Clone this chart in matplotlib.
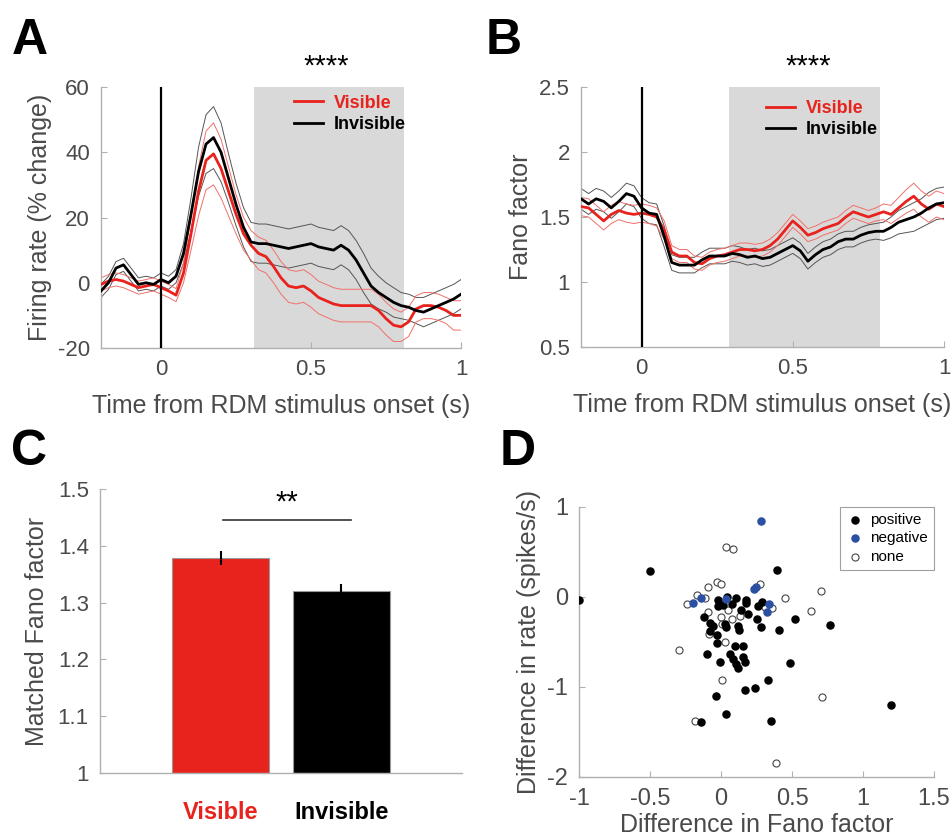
import numpy as np
import matplotlib
matplotlib.use("Agg")
import matplotlib.pyplot as plt

plt.rcParams['font.family'] = ['Liberation Sans', 'DejaVu Sans']
plt.rcParams['axes.unicode_minus'] = False

# ---- data ----
t = np.round(np.arange(-0.2, 1.0001, 0.025), 3)

vis_rate = [-0.5, 0.5, 1, 0.5, -0.5, -1.5, -1.0, -0.5, -1.5, -2.5, -3.8, 3, 15, 28, 37.5,
            39.5, 35, 28, 21, 15, 11.5, 9, 8, 5, 1.5, -1, -1.5, -1, -2.5, -4.5, -5.5, -6.5,
            -7, -7, -7, -7, -7, -8.5, -11, -13, -13.5, -12, -8, -7, -7, -7.5, -8.5, -10, -10]
vis_rate_sem = [2] * 11 + [3, 5, 7.5, 9, 9.5, 9, 7.5, 6, 5, 4.5] + [5] * 19 + [4.5, 4.5, 4, 4, 4, 4, 4, 4.5, 4.5]
inv_rate = [-2.5, 0, 4.5, 5.5, 2.5, -0.5, 0, -0.5, 1, 0, 2, 9, 21, 34, 42.5, 44.5, 40, 32, 24,
            17, 12.5, 12, 12, 11.5, 11, 10.5, 11, 11.5, 12, 11, 10.5, 10, 11.5, 10, 7, 3, -1,
            -3, -4.5, -6, -7, -7.5, -8.5, -9, -8, -7, -6, -5, -3.5]
inv_rate_sem = [2] * 11 + [3, 5, 7.5, 9, 9.5, 9, 7.5, 6.5, 6] + [6] * 16 + [5.5, 5, 4.5, 4.5, 4, 4, 4, 4.5, 4.5, 4.5, 4.5, 4.5, 4.5]

vis_ff = [1.58, 1.57, 1.52, 1.47, 1.52, 1.55, 1.53, 1.52, 1.53, 1.52, 1.50, 1.40, 1.23, 1.20,
          1.20, 1.15, 1.14, 1.18, 1.20, 1.21, 1.23, 1.25, 1.25, 1.24, 1.25, 1.28, 1.33, 1.40,
          1.47, 1.42, 1.36, 1.38, 1.41, 1.43, 1.45, 1.50, 1.54, 1.52, 1.50, 1.52, 1.54, 1.52,
          1.57, 1.62, 1.66, 1.60, 1.56, 1.60, 1.58]
vis_ff_sem = [0.07] * 12 + [0.05] * 28 + [0.06, 0.07, 0.08, 0.09, 0.1, 0.1, 0.1, 0.1, 0.1]
inv_ff = [1.64, 1.60, 1.64, 1.62, 1.57, 1.62, 1.68, 1.66, 1.57, 1.53, 1.52, 1.35, 1.15, 1.13,
          1.13, 1.13, 1.17, 1.20, 1.20, 1.20, 1.22, 1.21, 1.19, 1.20, 1.18, 1.19, 1.22, 1.25,
          1.28, 1.24, 1.16, 1.21, 1.25, 1.27, 1.31, 1.33, 1.33, 1.36, 1.38, 1.39, 1.39, 1.42,
          1.46, 1.48, 1.50, 1.53, 1.57, 1.60, 1.61]
inv_ff_sem = [0.08] * 12 + [0.06] * 28 + [0.07, 0.08, 0.09, 0.1, 0.11, 0.11, 0.12, 0.12, 0.12]

bar_labels = ['Visible', 'Invisible']
bar_values = [1.378, 1.32]
bar_err = [0.012, 0.013]

pos_x = [-1.0, -0.498, 0.394, -0.122, -0.019, 0.042, 0.103, 0.176, 0.178, -0.023, 0.014, 0.075,
         0.138, 0.188, 0.261, 0.289, 0.254, 0.284, 0.519, 0.77, 0.41, -0.075, -0.056, -0.08,
         0.026, 0.038, 0.12, 0.124, -0.028, -0.028, -0.099, -0.009, 0.099, 0.155, 0.066, 0.085,
         0.103, 0.12, 0.155, 0.172, 0.484, 0.329, 0.167, 0.239, -0.033, 0.038, -0.141, 0.35, 1.2]
pos_y = [-0.03, 0.287, 0.298, -0.218, -0.032, 0.005, -0.006, -0.032, -0.07, -0.10, -0.09, -0.08,
         -0.14, -0.19, -0.10, -0.06, -0.24, -0.33, -0.245, -0.31, -0.37, -0.29, -0.32, -0.38,
         -0.30, -0.33, -0.32, -0.37, -0.42, -0.51, -0.63, -0.72, -0.55, -0.55, -0.63, -0.69,
         -0.74, -0.79, -0.67, -0.72, -0.73, -0.92, -1.035, -1.016, -1.10, -1.30, -1.39, -1.38, -1.20]
neg_x = [0.279, 0.23, 0.249, -0.197, -0.143, 0.038, 0.338, 0.322]
neg_y = [0.848, 0.087, 0.116, -0.07, -0.006, -0.02, -0.08, -0.17]
none_x = [0.038, 0.085, -0.028, 0.0, -0.089, -0.167, -0.115, -0.24, -0.092, 0.277, 0.448, 0.704,
          0.636, 0.36, 0.05, 0.002, 0.077, 0.131, 0.01, -0.085, 0.026, -0.298, 0.007, 0.711,
          -0.185, 0.387, 0.31]
none_y = [0.554, 0.536, 0.165, 0.14, 0.109, 0.024, -0.013, -0.08, -0.17, 0.142, -0.006, 0.068,
          -0.16, -0.12, -0.14, -0.22, -0.25, -0.21, -0.30, -0.415, -0.50, -0.59, -0.92, -1.11,
          -1.376, -1.85, -0.11]

RED = '#e8221c'
GRAY_TXT = '#4a4a4a'
SPINE = '#b0b0b0'

fig = plt.figure(figsize=(9.52, 8.38), dpi=100)


def style(ax, size=15):
    for s in ['top', 'right']:
        ax.spines[s].set_visible(False)
    for s in ['left', 'bottom']:
        ax.spines[s].set_color(SPINE)
        ax.spines[s].set_linewidth(1.0)
    ax.tick_params(direction='in', length=4, color=SPINE, labelcolor=GRAY_TXT, labelsize=size, pad=8)


def psth(ax, vis, vis_sem, inv, inv_sem, shade, ylim, yticks, ylabel, leg_xy):
    vis, vis_sem, inv, inv_sem = map(np.array, (vis, vis_sem, inv, inv_sem))
    ax.axvspan(shade[0], shade[1], color='#d9d9d9', lw=0, zorder=0)
    for m, s, c, bc in [(inv, inv_sem, 'black', '#555555'), (vis, vis_sem, RED, '#f0706a')]:
        ax.plot(t, m + s, color=bc, lw=0.7, zorder=2)
        ax.plot(t, m - s, color=bc, lw=0.7, zorder=2)
    lv, = ax.plot(t, vis, color=RED, lw=2.0, zorder=3)
    li, = ax.plot(t, inv, color='black', lw=2.0, zorder=3)
    ax.axvline(0, color='black', lw=1.6, zorder=4)
    ax.set_xlim(-0.2, 1.0)
    ax.set_ylim(*ylim)
    ax.set_xticks([0, 0.5, 1])
    ax.set_xticklabels(['0', '0.5', '1'])
    ax.set_yticks(yticks)
    style(ax, 16)
    ax.set_xlabel('Time from RDM stimulus onset (s)', fontsize=18, color=GRAY_TXT, labelpad=10)
    ax.set_ylabel(ylabel, fontsize=18, color=GRAY_TXT, labelpad=4)
    ax.text(0.625, 1.025, '****', transform=ax.transAxes, ha='center', va='bottom',
            fontsize=21)
    leg = ax.legend([lv, li], ['Visible', 'Invisible'], loc='upper left', bbox_to_anchor=leg_xy,
                    frameon=False, handlelength=1.6, handletextpad=0.6, borderpad=0,
                    labelspacing=0.25, prop={'weight': 'bold', 'size': 13})
    leg.get_texts()[0].set_color(RED)


# A
axA = fig.add_axes([0.1061, 0.5847, 0.3782, 0.3115])
psth(axA, vis_rate, vis_rate_sem, inv_rate, inv_rate_sem, (0.31, 0.81), (-20, 60),
     [-20, 0, 20, 40, 60], 'Firing rate (% change)', (0.51, 1.005))

# B
axB = fig.add_axes([0.6103, 0.5859, 0.3813, 0.3103])
psth(axB, vis_ff, vis_ff_sem, inv_ff, inv_ff_sem, (0.29, 0.79), (0.5, 2.5),
     [0.5, 1, 1.5, 2, 2.5], 'Fano factor', (0.485, 0.985))
axB.set_yticklabels(['0.5', '1', '1.5', '2', '2.5'])

# C
axC = fig.add_axes([0.1050, 0.0776, 0.3803, 0.3389])
xpos = np.arange(1, len(bar_values) + 1)
axC.bar(xpos, np.array(bar_values) - 1, bottom=1, width=0.8, color=[RED, 'black'],
        edgecolor='#9a9a9a', linewidth=0.8, zorder=2)
axC.errorbar(xpos, bar_values, yerr=bar_err, fmt='none', ecolor='black', elinewidth=1.5,
             capsize=0, zorder=3)
axC.set_xlim(0, 3)
axC.set_ylim(1, 1.5)
axC.set_yticks([1, 1.1, 1.2, 1.3, 1.4, 1.5])
axC.set_yticklabels(['1', '1.1', '1.2', '1.3', '1.4', '1.5'])
style(axC, 16)
axC.set_xticks(xpos)
axC.set_xticklabels(bar_labels, fontsize=17, fontweight='bold')
axC.tick_params(axis='x', length=0, pad=20)
for lab, c in zip(axC.get_xticklabels(), [RED, 'black']):
    lab.set_color(c)
axC.plot([1.02, 2.08], [1.445, 1.445], color='#333333', lw=1.2)
axC.text(1.55, 1.452, '**', ha='center', va='bottom', fontsize=21)
axC.set_ylabel('Matched Fano factor', fontsize=18, color=GRAY_TXT, labelpad=6)

# D
axD = fig.add_axes([0.6082, 0.0728, 0.3729, 0.3222])
axD.scatter(pos_x, pos_y, s=26, color='black', zorder=3, label='positive')
axD.scatter(neg_x, neg_y, s=26, color='#2b4fa3', zorder=4, label='negative')
axD.scatter(none_x, none_y, s=26, facecolors='white', edgecolors='#444444', linewidths=0.8,
            zorder=2, label='none')
axD.set_xlim(-1, 1.5)
axD.set_ylim(-2, 1)
axD.set_xticks([-1, -0.5, 0, 0.5, 1, 1.5])
axD.set_xticklabels(['-1', '-0.5', '0', '0.5', '1', '1.5'])
axD.set_yticks([-2, -1, 0, 1])
style(axD, 17)
axD.set_xlabel('Difference in Fano factor', fontsize=18, color=GRAY_TXT, labelpad=2)
axD.set_ylabel('Difference in rate (spikes/s)', fontsize=18, color=GRAY_TXT, labelpad=4)
legD = axD.legend(loc='upper right', bbox_to_anchor=(1.022, 1.03), fontsize=11, frameon=True,
                  fancybox=False, edgecolor='#888888', handletextpad=0.4, borderpad=0.4,
                  labelspacing=0.3, handlelength=1.2)
legD.get_frame().set_linewidth(0.8)

# panel letters
for lbl, x, y in [('A', 0.012, 0.979), ('B', 0.51, 0.979), ('C', 0.012, 0.488), ('D', 0.525, 0.488)]:
    fig.text(x, y, lbl, fontsize=36, fontweight='bold', ha='left', va='top')

fig.savefig('out.png', dpi=100)
